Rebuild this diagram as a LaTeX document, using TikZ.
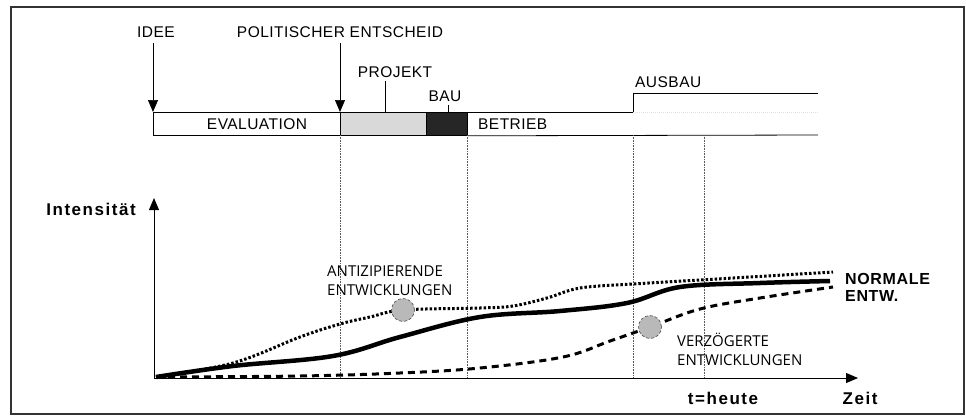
\documentclass[tikz,border=0pt]{standalone}
\usepackage{fontspec}
\setmainfont{Liberation Sans}
\newfontfamily\curvefont{Open Sans}
\usetikzlibrary{positioning,arrows.meta}
\tikzset{
  phase/.style={draw, line width=0.8pt, minimum height=23, inner sep=0pt, anchor=north west},
  pointer/.style={-{Triangle[length=12pt,width=10pt]}},
  guide/.style={densely dotted, line width=0.6pt, gray!70!black},
  boldlabel/.style={font=\bfseries\fontsize{17}{17}\selectfont\addfontfeatures{LetterSpace=9}},
  curvelabel/.style={font=\curvefont\fontsize{15}{19}\selectfont, align=left, inner sep=0pt, anchor=north west},
  blob/.style={circle, fill=gray!55, draw=gray!60!black, densely dashed, line width=0.6pt, minimum size=23, inner sep=0pt}
}
\begin{document}
\begin{tikzpicture}[x=1pt, y=-1pt,
    font=\fontsize{15.5}{17}\selectfont\addfontfeatures{LetterSpace=3}]
  \useasboundingbox (0,0) rectangle (966,416);
  \draw[gray!40!black, line width=1.4pt] (11,7) rectangle (964,414);

  % phases
  \node[phase, minimum width=187, fill=white] (eval) at (153,112) {};
  \node[phase, minimum width=86, fill=gray!30] (proj) at (340,112) {};
  \node[phase, minimum width=41, fill=black!85] (bau) at (426,112) {};
  \draw[line width=0.8pt] (bau.north east) -- (633,112) -- (633,93) -- (818,93);
  \draw[line width=0.8pt] (bau.south east) -- (818,135);
  \draw[gray!25, densely dotted, line width=1pt] (633,112) -- (818,112);
  \node (evaltext) at (257,124) {EVALUATION};
  \node[anchor=west, inner sep=0pt] (betrieb) at (478,124) {BETRIEB};
  \node[anchor=west, inner sep=0pt] (ausbau) at (635,82) {AUSBAU};

  % labels above the bar
  \node (idee) at (156,32) {IDEE};
  \node (entscheid) at (340,32) {POLITISCHER ENTSCHEID};
  \node (projekt) at (395,72) {PROJEKT};
  \node (baulabel) at (445,96) {BAU};
  \draw[pointer, line width=0.7pt] (idee.south -| eval.north west) ++(0,2) -- (eval.north west);
  \draw[pointer, line width=0.7pt] (entscheid.south -| proj.north west) ++(0,2) -- (proj.north west);
  \draw[line width=0.5pt] (projekt.south -| 385,0) -- (385,0 |- proj.north);
  \draw[line width=0.5pt] (baulabel.south -| 448,0) -- (448,0 |- bau.north);

  % axes
  \coordinate (o) at (154,378);
  \coordinate (ytip) at (154,198);
  \coordinate (xtip) at (858,378);
  \draw[pointer, line width=1pt] (o) -- (ytip);
  \draw[pointer, line width=1pt] (o) -- (xtip);
  \node[boldlabel] (int) at (91,209) {Intensität};
  \node[boldlabel] (zeit) at (860,398) {Zeit};
  \node[boldlabel] (heute) at (723,398) {t=heute};

  % guide lines
  \foreach \gx/\gy in {340/135, 467/135, 633/135, 704/135}
    \draw[guide] (\gx,\gy) -- (\gx,378);

  % curves
  \draw[line width=3pt, dash pattern=on 7pt off 5pt] plot[smooth, tension=0.6] coordinates
    {(156,377) (300,376) (400,373) (480,368) (563,357) (610,341) (650,327) (700,309) (760,298) (833,287)};
  \draw[line width=3pt, dash pattern=on 2.5pt off 2pt] plot[smooth, tension=0.6] coordinates
    {(156,377) (233,363) (300,337) (340,324) (370,317) (403,310) (480,308) (513,306) (547,298) (580,288) (633,284) (700,280) (833,272)};
  \draw[line width=4.5pt] plot[smooth, tension=0.6] coordinates
    {(156,377) (233,366) (333,356) (400,337) (480,317) (560,311) (627,303) (680,287) (760,283) (830,281)};

  \node[blob] (anti) at (403,310) {};
  \node[blob] (verz) at (650,327) {};

  \node[curvelabel] (antilabel) at (327,266) {ANTIZIPIERENDE\\ENTWICKLUNGEN};
  \node[curvelabel] (verzlabel) at (677,333) {VERZÖGERTE\\ENTWICKLUNGEN};
  \node[boldlabel, font=\bfseries\fontsize{16}{17}\selectfont\addfontfeatures{LetterSpace=4}, align=left, anchor=north west, inner sep=0pt] (normal) at (845,273) {NORMALE\\ENTW.};
\end{tikzpicture}
\end{document}
